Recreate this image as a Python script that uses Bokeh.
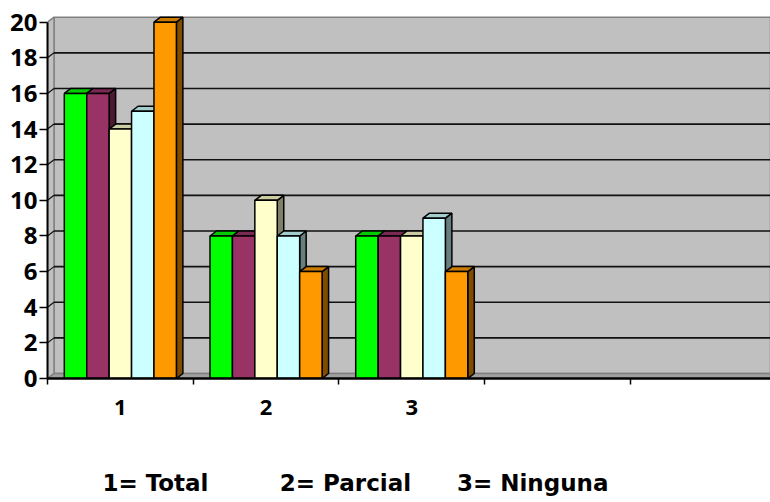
import numpy as np
from bokeh.plotting import figure
from bokeh.models import Range1d, FixedTicker, LinearAxis
from bokeh.embed import file_html
from bokeh.resources import INLINE

# ---------------- data ----------------
categories = ["1", "2", "3"]
n_slots = 5                      # category slots on the axis (last two empty)
series_green = [16, 8, 8]
series_purple = [16, 8, 8]
series_yellow = [14, 10, 8]
series_cyan = [15, 8, 9]
series_orange = [20, 6, 6]
y_ticks = [0, 2, 4, 6, 8, 10, 12, 14, 16, 18, 20]
caption = ["1= Total", "2= Parcial", "3= Ninguna"]

series = [series_green, series_purple, series_yellow, series_cyan, series_orange]

# ---------------- styles ----------------
front_colors = ["#00FF00", "#993366", "#FFFFCC", "#CCFFFF", "#FF9900"]
top_colors = ["#00CC00", "#7A2952", "#CCCCA3", "#A3CCCC", "#CC7A00"]
side_colors = ["#008000", "#4C1933", "#808066", "#668080", "#804C00"]

PX_X = 145.7     # pixels per category slot
PX_Y = 17.815    # pixels per value unit
FRAME_W = 723
FRAME_H = 365
x_end = FRAME_W / PX_X
y_end = FRAME_H / PX_Y
dx = 6.5 / PX_X  # 3-D depth offsets in data units
dy = 5.0 / PX_Y
ymax = y_ticks[-1]

p = figure(width=770, height=502, output_backend="svg", toolbar_location=None,
           x_range=Range1d(0, x_end), y_range=Range1d(0, y_end),
           min_border_left=47, min_border_right=0, min_border_top=13,
           min_border_bottom=124)
p.xgrid.visible = False
p.ygrid.visible = False
p.outline_line_color = None
p.background_fill_color = "white"
p.border_fill_color = "white"

# walls and floor
wall_fill = "#C0C0C0"
edge = "#808080"
p.patch([dx, x_end, x_end, dx], [dy, dy, ymax + dy, ymax + dy],
        fill_color=wall_fill, line_color=edge, line_width=1.5)
p.patch([0, dx, dx, 0], [0, dy, ymax + dy, ymax],
        fill_color=wall_fill, line_color=edge, line_width=1.5)
p.patch([0, x_end, x_end, dx], [0, 0, dy, dy],
        fill_color="#A0A0A0", line_color=edge, line_width=1.5)

inner = [v for v in y_ticks[1:-1]]
p.segment(x0=[dx] * len(inner), y0=[v + dy for v in inner],
          x1=[x_end] * len(inner), y1=[v + dy for v in inner],
          line_color="#111111", line_width=1.6)
p.segment(x0=[0] * len(inner), y0=inner,
          x1=[dx] * len(inner), y1=[v + dy for v in inner],
          line_color="#111111", line_width=1.2)

# bars (pseudo 3-D)
n_ser = len(series)
w = 1.0 / (n_ser + 1.5)
gap = 0.75 * w
side_xs, side_ys, side_c = [], [], []
top_xs, top_ys, top_c = [], [], []
fl, fr, ft, fc = [], [], [], []
for j, vals in enumerate(series):
    for i, v in enumerate(vals):
        x0 = i + gap + j * w
        x1 = x0 + w
        side_xs.append([x1, x1 + dx, x1 + dx, x1])
        side_ys.append([0, dy, v + dy, v])
        side_c.append(side_colors[j])
        top_xs.append([x0, x1, x1 + dx, x0 + dx])
        top_ys.append([v, v, v + dy, v + dy])
        top_c.append(top_colors[j])
        fl.append(x0); fr.append(x1); ft.append(v); fc.append(front_colors[j])

p.patches(side_xs, side_ys, fill_color=side_c, line_color="black", line_width=1.5)
p.patches(top_xs, top_ys, fill_color=top_c, line_color="black", line_width=1.5)
p.quad(left=fl, right=fr, bottom=0, top=ft, fill_color=fc,
       line_color="black", line_width=1.5)

# y axis
ya = p.yaxis[0]
ya.ticker = FixedTicker(ticks=y_ticks)
ya.bounds = (0, ymax)
ya.axis_line_color = "black"
ya.axis_line_width = 2
ya.major_tick_line_color = "black"
ya.major_tick_line_width = 1.5
ya.major_tick_out = 8
ya.major_tick_in = 0
ya.minor_tick_out = 0
ya.minor_tick_in = 0
ya.major_label_standoff = 2
ya.major_label_text_font = "Open Sans"
ya.major_label_text_font_style = "bold"
ya.major_label_text_font_size = "24px"
ya.major_label_text_color = "black"

# x axis
xa = p.xaxis[0]
centers = [i + 0.5 for i in range(len(categories))]
xa.ticker = FixedTicker(ticks=centers, minor_ticks=list(range(n_slots + 1)))
xa.major_label_overrides = {c: lab for c, lab in zip(centers, categories)}
xa.axis_line_color = "black"
xa.axis_line_width = 2.5
xa.major_tick_out = 0
xa.major_tick_in = 0
xa.minor_tick_out = 6
xa.minor_tick_in = 0
xa.minor_tick_line_color = "black"
xa.minor_tick_line_width = 1.5
xa.major_label_standoff = 15
xa.major_label_text_font = "Open Sans"
xa.major_label_text_font_style = "bold"
xa.major_label_text_font_size = "22px"
xa.major_label_text_color = "black"

# caption below the chart, as a second (line-less) axis
cap_pos = [0.741, 2.045, 3.33]
cap_axis = LinearAxis(ticker=FixedTicker(ticks=cap_pos, minor_ticks=[]),
                      major_label_overrides={c: t for c, t in zip(cap_pos, caption)},
                      axis_line_color=None, major_tick_line_color=None,
                      minor_tick_line_color=None, major_tick_out=0,
                      major_tick_in=0, major_label_standoff=52,
                      major_label_text_font="DejaVu Sans",
                      major_label_text_font_style="bold",
                      major_label_text_font_size="23px",
                      major_label_text_color="black")
p.add_layout(cap_axis, "below")

open("out.html", "w").write(file_html(p, INLINE))
